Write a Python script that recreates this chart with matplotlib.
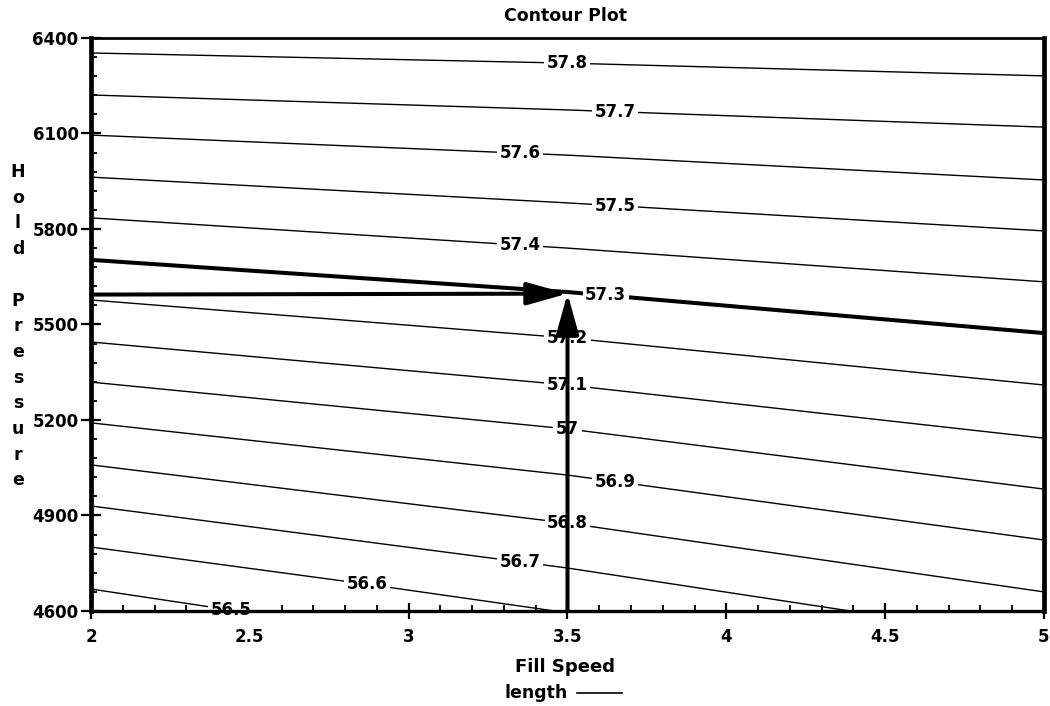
import matplotlib.pyplot as plt
import numpy as np

plt.rcParams['font.family'] = ['DejaVu Sans']
plt.rcParams['font.weight'] = 'bold'

# contour levels and the points each line passes through
levels = [57.8, 57.7, 57.6, 57.5, 57.4, 57.3, 57.2, 57.1, 57.0, 56.9, 56.8, 56.7, 56.6, 56.5]
level_text = ['57.8', '57.7', '57.6', '57.5', '57.4', '57.3', '57.2', '57.1', '57',
              '56.9', '56.8', '56.7', '56.6', '56.5']
line_x = [[2, 3.5, 5]] * 11 + [[2, 3.5, 4.39], [2, 2.87, 3.46], [2, 2.46]]
line_y = [
    [6353, 6321, 6281],
    [6221, 6174, 6120],
    [6095, 6032, 5954],
    [5963, 5882, 5794],
    [5835, 5740, 5634],
    [5703, 5602, 5473],
    [5577, 5458, 5310],
    [5445, 5310, 5143],
    [5319, 5172, 4983],
    [5191, 5027, 4823],
    [5059, 4876, 4660],
    [4930, 4735, 4600],
    [4801, 4684, 4600],
    [4669, 4600],
]
label_x = [3.5, 3.65, 3.35, 3.65, 3.35, 3.62, 3.5, 3.5, 3.5, 3.65, 3.5, 3.35, 2.87, 2.44]

# the reading shown with arrows
target_speed = 3.5
target_pressure = 5597

xticks = [2, 2.5, 3, 3.5, 4, 4.5, 5]
xticklabels = ['2', '2.5', '3', '3.5', '4', '4.5', '5']
yticks = [4600, 4900, 5200, 5500, 5800, 6100, 6400]

fig = plt.figure(figsize=(10.5, 7.06), dpi=100)
ax = fig.add_axes([91 / 1050, 1 - 611 / 706, (1044 - 91) / 1050, (611 - 38) / 706])

for lev, txt, xs, ys, lx in zip(levels, level_text, line_x, line_y, label_x):
    bold = lev == 57.3
    ax.plot(xs, ys, color='black', lw=2.9 if bold else 1.0, zorder=2, clip_on=True)
    ly = np.interp(lx, xs, ys)
    ax.text(lx, ly, txt, ha='center', va='center', fontsize=12, zorder=2.2,
            bbox=dict(boxstyle='square,pad=0.15', fc='white', ec='none'))

ax.annotate('', xy=(target_speed, target_pressure), xytext=(2, target_pressure - 3),
            arrowprops=dict(arrowstyle='-|>,head_length=0.5,head_width=0.14',
                            mutation_scale=50, lw=2.9, color='black',
                            shrinkA=0, shrinkB=0), zorder=5)
ax.annotate('', xy=(target_speed, target_pressure), xytext=(target_speed, 4600),
            arrowprops=dict(arrowstyle='-|>,head_length=0.5,head_width=0.14',
                            mutation_scale=50, lw=2.9, color='black',
                            shrinkA=0, shrinkB=0), zorder=5)

ax.set_xlim(2, 5)
ax.set_ylim(4600, 6400)
ax.set_xticks(xticks)
ax.set_xticklabels(xticklabels)
ax.set_yticks(yticks)
ax.set_xticks(np.arange(2, 5.01, 0.1), minor=True)
ax.set_yticks(np.arange(4600, 6401, 60), minor=True)
ax.tick_params(axis='x', which='major', direction='inout', length=12, width=1.6,
               labelsize=12, pad=6)
ax.tick_params(axis='x', which='minor', direction='in', length=4, width=1.3)
ax.tick_params(axis='y', which='major', direction='inout', length=14, width=1.6,
               labelsize=12, pad=2)
ax.tick_params(axis='y', which='minor', direction='in', length=4, width=1.3)

ax.spines['left'].set_linewidth(3.4)
ax.spines['right'].set_linewidth(3.4)
ax.spines['bottom'].set_linewidth(2.4)
ax.spines['top'].set_linewidth(2.0)

fig.text(566 / 1050, 1 - 16 / 706, 'Contour Plot', ha='center', va='center', fontsize=12.5)
fig.text(565 / 1050, 1 - 667 / 706, 'Fill Speed', ha='center', va='center', fontsize=13)
fig.text(568 / 1050, 1 - 693 / 706, 'length', ha='right', va='center', fontsize=12.5)
fig.add_artist(plt.Line2D([577 / 1050, 622 / 1050], [1 - 693 / 706, 1 - 693 / 706],
                          color='black', lw=1.2))

for i, ch in enumerate('Hold Pressure'):
    fig.text(18 / 1050, 1 - (172 + i * 25.7) / 706, ch, ha='center', va='center',
             fontsize=12.5)

fig.savefig('out.png', dpi=100)
